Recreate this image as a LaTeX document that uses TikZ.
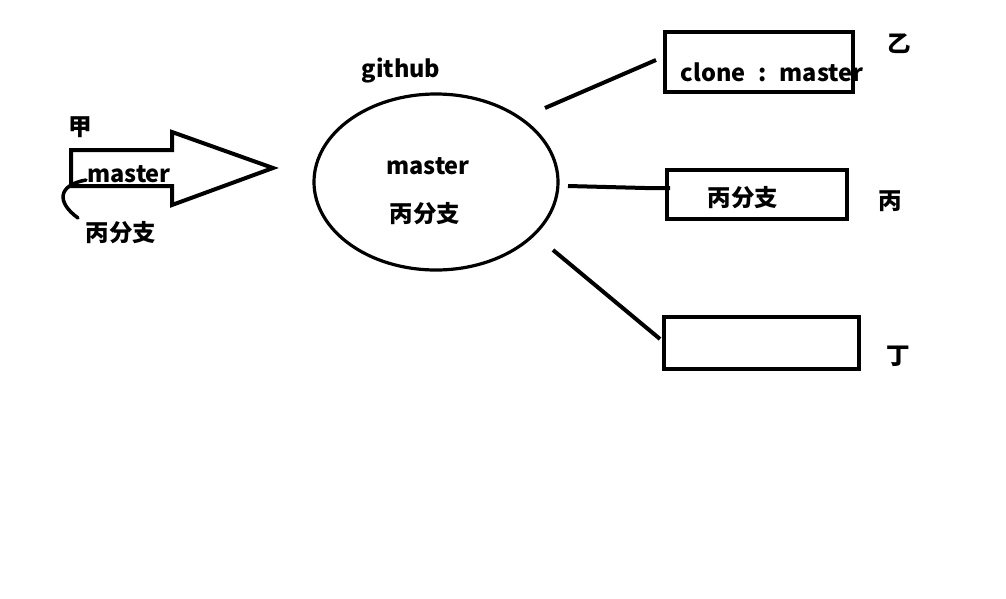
\documentclass[tikz,border=0pt]{standalone}
\usepackage{fontspec}
\setmainfont{Noto Sans CJK SC}
\usetikzlibrary{shapes.geometric}
\tikzset{
  lbl/.style={font=\fontsize{23.5}{25}\selectfont\bfseries, inner sep=0pt},
  thick4/.style={line width=4pt},
  boxs/.style={draw, line width=4pt, inner sep=0pt, anchor=north west},
}
\begin{document}
\begin{tikzpicture}[x=1pt,y=-1pt]
\useasboundingbox (0,0) rectangle (1006,598);
% big arrow
\draw[thick4, line join=miter] (71,150) -- (172,150) -- (172,132) -- (273,168) -- (172,205) -- (172,186) -- (71,186) -- cycle;
\coordinate (c1) at (86,180);
\coordinate (c2) at (78,218);
\draw[line width=3.5pt, line cap=round] (c1) .. controls (58,185) and (56,202) .. (c2);
\node[lbl] (jia) at (80,127) {甲};
\node[lbl] (m1) at (129,174) {master};
\node[lbl] (b1) at (121,233) {丙分支};
% ellipse
\node[draw, ellipse, line width=3.2pt, minimum width=244pt, minimum height=176pt, inner sep=0pt] (gh) at (436,182) {};
\node[lbl] (ghl) at (401,71) {github};
\node[lbl] (m2) at (428,166) {master};
\node[lbl] (b2) at (425,214) {丙分支};
% boxes
\node[boxs, minimum width=188pt, minimum height=60pt] (yi) at (663,30) {};
\node[lbl] (yit) at (772,72) {clone\hspace{0.55em}:\hspace{0.55em}master};
\node[lbl] (yil) at (899,44) {乙};
\node[boxs, minimum width=180pt, minimum height=49pt] (bing) at (665,168) {};
\node[lbl] (bingt) at (743,198) {丙分支};
\node[lbl] (bingl) at (890,201) {丙};
\node[boxs, minimum width=195pt, minimum height=52pt] (ding) at (662,315) {};
\node[lbl] (dingl) at (898,356) {丁};
% connectors
\coordinate (e1) at (545,108);
\coordinate (f1) at (656,60);
\coordinate (e2) at (568,186);
\coordinate (f2) at (670,188);
\coordinate (e3) at (553,250);
\coordinate (f3) at (660,339);
\draw[thick4] (e1) -- (f1);
\draw[thick4] (e2) -- (645,188) -- (f2);
\draw[thick4] (e3) -- (f3);
\end{tikzpicture}
\end{document}
